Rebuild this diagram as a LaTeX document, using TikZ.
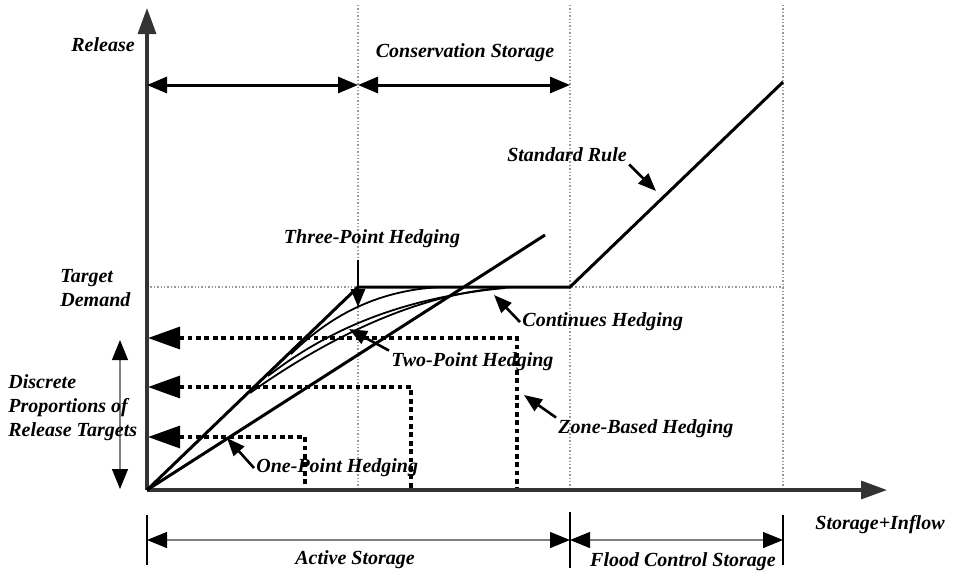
\documentclass[tikz,border=0pt]{standalone}
\usepackage{fontspec}
\setmainfont{Liberation Serif}
\usetikzlibrary{arrows.meta, positioning}
\tikzstyle{lbl} = [font=\bfseries\itshape, inner sep=1pt]
\tikzstyle{gridline} = [densely dotted, gray!80, line width=0.7pt]
\tikzstyle{axis} = [line width=1.6pt, black!80, -{Triangle[length=13pt,width=9pt]}]
\tikzstyle{dimline} = [line width=1.5pt, {Triangle[length=10pt,width=8pt]}-{Triangle[length=10pt,width=8pt]}]
\tikzstyle{thindim} = [gray, line width=0.6pt, {Triangle[length=10pt,width=8pt,color=black]}-{Triangle[length=10pt,width=8pt,color=black]}]
\tikzstyle{tick} = [line width=1.2pt]
\tikzstyle{level} = [line width=1.6pt, dash pattern=on 2.4pt off 1.8pt, {Triangle[length=16pt,width=11pt]}-]
\tikzstyle{rule} = [line width=1.5pt, line join=miter]
\tikzstyle{curve} = [line width=0.9pt]
\tikzstyle{pointer} = [line width=1.3pt, -{Triangle[length=9pt,width=7pt]}]

\begin{document}
\begin{tikzpicture}[x=0.5pt, y=-0.5pt]
\useasboundingbox (0,0) rectangle (956,574);

% frame points
\coordinate (origin) at (147,490);
\coordinate (ytop) at (147,8);
\coordinate (xend) at (887,490);
\coordinate (kink) at (358,287);
\coordinate (flat) at (570,287);
\coordinate (rise) at (783,82);
\coordinate (linear) at (545,235);

% grid
\draw [gridline] (358,5) -- (358,490);
\draw [gridline] (570,5) -- (570,490);
\draw [gridline] (783,5) -- (783,490);
\draw [gridline] (147,287) -- (783,287);

% zone-based levels
\coordinate (lvlA) at (148,338); \coordinate (kneeA) at (517,338); \coordinate (footA) at (517,490);
\coordinate (lvlB) at (148,387); \coordinate (kneeB) at (411,387); \coordinate (footB) at (411,490);
\coordinate (lvlC) at (148,437); \coordinate (kneeC) at (305,437); \coordinate (footC) at (305,490);
\draw [level] (lvlA) -- (kneeA) -- (footA);
\draw [level] (lvlB) -- (kneeB) -- (footB);
\draw [level] (lvlC) -- (kneeC) -- (footC);

% axes
\draw [axis] (origin) -- (ytop);
\draw [axis] (origin) -- (xend);

% top storage zones
\coordinate (topL) at (147,85);
\coordinate (topM) at (358,85);
\coordinate (topR) at (570,85);
\draw [dimline] (topL) -- (topM);
\draw [dimline] (topM) -- (topR);

% release rules
\draw [rule] (origin) -- (kink) -- (flat) -- (rise);
\draw [rule] (origin) -- (linear);
\draw [curve] (291,354) .. controls (340,306) and (390,290) .. (440,287);
\draw [curve] (268,376) .. controls (340,320) and (420,296) .. (505,288);
\draw [curve] (250,393) .. controls (350,322) and (440,290) .. (515,287);

% left bracket
\coordinate (brtop) at (120,340);
\coordinate (brbot) at (120,489);
\draw [thindim] (brtop) -- (brbot);

% bottom storage zones
\coordinate (botL) at (147,540);
\coordinate (botM) at (570,540);
\coordinate (botR) at (783,540);
\draw [tick] (147,515) -- (147,565);
\draw [tick] (570,512) -- (570,568);
\draw [tick] (783,515) -- (783,565);
\draw [thindim] (botL) -- (botM);
\draw [thindim] (botM) -- (botR);

% labels
\node (release) [lbl] at (103,45) {Release};
\node (conservation) [lbl] at (465,53) {Conservation Storage};
\node (target) [lbl, align=left, anchor=west] at (58,288) {Target\\Demand};
\node (discrete) [lbl, align=left, anchor=west] at (6,408) {Discrete\\Proportions of\\Release Targets};
\node (standard) [lbl] at (567,155) {Standard Rule};
\node (threept) [lbl] at (372,239) {Three-Point Hedging};
\node (continues) [lbl, anchor=west] at (520,322) {Continues Hedging};
\node (twopt) [lbl, anchor=west] at (389,362) {Two-Point Hedging};
\node (zone) [lbl, anchor=west] at (556,429) {Zone-Based Hedging};
\node (onept) [lbl, anchor=west] at (254,468) {One-Point Hedging};
\node (inflow) [lbl] at (880,525) {Storage+Inflow};
\node (active) [lbl] at (355,560) {Active Storage};
\node (flood) [lbl] at (683,562) {Flood Control Storage};

% pointers
\coordinate (srtip) at (656,191);
\coordinate (tptail) at (358,260);
\coordinate (tptip) at (358,307);
\coordinate (chtip) at (494,295);
\coordinate (twtip) at (349,329);
\coordinate (zbtip) at (524,395);
\coordinate (optip) at (227,438);
\draw [pointer] (standard.south east) -- (srtip);
\draw [pointer] (tptail) -- (tptip);
\draw [pointer] (continues.west) -- (chtip);
\draw [pointer] (twopt.north west) -- (twtip);
\draw [pointer] (zone.north west) -- (zbtip);
\draw [pointer] (onept.west) -- (optip);
\end{tikzpicture}
\end{document}
